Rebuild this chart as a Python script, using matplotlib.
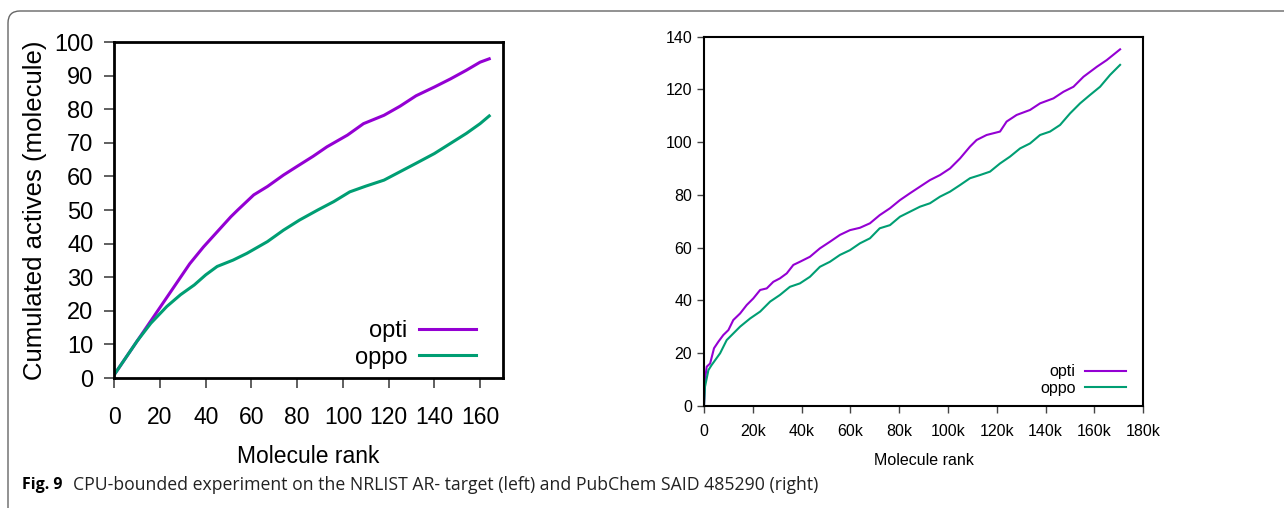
import matplotlib.pyplot as plt
from matplotlib.patches import FancyBboxPatch
from matplotlib.ticker import FuncFormatter

# left panel: NRLIST AR- target
left_opti_x = [0, 10, 20, 33, 39, 43, 47, 51, 54, 61, 67, 74, 80, 87, 93, 102, 109, 118, 125,
               132, 140, 147, 154, 160, 164]
left_opti_y = [1, 11, 21, 34, 39, 42, 45, 48, 50, 54.5, 57, 60.4, 63, 66, 68.8, 72.3, 75.7,
               78.2, 80.9, 84, 86.6, 89, 91.6, 94, 95]
left_oppo_x = [0, 10, 16, 23, 29, 35, 40, 45, 52, 58, 67, 74, 81, 89, 96, 103, 110, 118, 125,
               132, 140, 147, 154, 160, 164]
left_oppo_y = [1, 11, 16.3, 21.3, 24.8, 27.7, 30.7, 33.2, 35.1, 37.1, 40.6, 44, 47, 50, 52.5,
               55.4, 57.1, 58.9, 61.4, 63.9, 66.8, 69.8, 72.8, 75.7, 78]

# right panel: PubChem SAID 485290 (x in molecules)
right_opti_x = [0, 400, 1100, 2500, 4100, 5900, 7900, 10000, 12000, 14800, 17500, 20200, 23000,
                25700, 28400, 31100, 33900, 36600, 39300, 43400, 47500, 51600, 55700, 59800,
                63900, 68000, 72000, 76200, 80300, 84400, 88500, 92600, 96700, 100800, 104900,
                109000, 111700, 115800, 121300, 124000, 128100, 133600, 137700, 143200, 147300,
                151400, 155500, 161000, 165000, 170500]
right_opti_y = [0, 9.7, 14.8, 16, 21.8, 24.3, 26.8, 28.7, 32.5, 35, 38.2, 40.7, 43.9, 44.5, 47,
                48.3, 50.2, 53.4, 54.6, 56.5, 59.7, 62.2, 64.8, 66.6, 67.5, 69.2, 72.3, 74.9,
                78, 80.6, 83.1, 85.6, 87.5, 90, 93.8, 98.3, 100.8, 102.7, 104, 107.8, 110.3,
                112.2, 114.7, 116.6, 119.1, 121, 124.8, 128.6, 131.1, 135.2]
right_oppo_x = [0, 400, 1800, 3100, 6600, 9300, 12000, 14800, 18900, 23000, 27100, 31100, 35200,
                39300, 43400, 47500, 51600, 55700, 59800, 63900, 68000, 72000, 76200, 80300,
                84400, 88500, 92600, 96700, 100800, 104900, 109000, 113100, 117200, 121300,
                125400, 129500, 133600, 137700, 141800, 145900, 150000, 154100, 158200, 162300,
                166400, 170500]
right_oppo_y = [0, 7.2, 13.5, 15.4, 19.9, 24.9, 27.4, 30, 33.1, 35.7, 39.5, 42, 45.1, 46.4,
                48.9, 52.7, 54.6, 57.2, 59, 61.6, 63.5, 67.3, 68.5, 71.7, 73.6, 75.5, 76.8,
                79.3, 81.2, 83.7, 86.3, 87.5, 88.8, 91.9, 94.5, 97.6, 99.5, 102.7, 104, 106.5,
                110.9, 114.7, 117.9, 121, 125.5, 129.3]

purple = '#9400D3'
green = '#009E73'
plt.rcParams['font.family'] = ['Liberation Sans', 'DejaVu Sans']

fig = plt.figure(figsize=(12.84, 5.08), dpi=100)

# rounded frame around the figure
frame = FancyBboxPatch((0.08, -0.5), 13.2, 5.08 - 0.11 + 0.5, boxstyle='round,pad=0,rounding_size=0.12',
                       transform=fig.dpi_scale_trans, facecolor='none', edgecolor='#666666', lw=1.0)
fig.add_artist(frame)

# left plot
ax1 = fig.add_axes([0.0890, 0.2559, 0.3027, 0.6614])
ax1.plot(left_opti_x, left_opti_y, color=purple, lw=2.2, label='opti')
ax1.plot(left_oppo_x, left_oppo_y, color=green, lw=2.2, label='oppo')
ax1.set_xlim(0, 170)
ax1.set_ylim(0, 100)
ax1.set_xticks(range(0, 161, 20))
ax1.set_yticks(range(0, 101, 10))
ax1.tick_params(labelsize=17, direction='out', length=7, width=1.2, color='#444444')
ax1.tick_params(axis='x', pad=13, labelsize=16.5)
ax1.tick_params(axis='y', pad=8)
for s in ax1.spines.values():
    s.set_linewidth(2)
ax1.set_xlabel('Molecule rank', fontsize=16.5, labelpad=12)
ax1.set_ylabel('Cumulated actives (molecule)', fontsize=18.5, labelpad=5)
ax1.legend(loc='lower right', bbox_to_anchor=(0.985, -0.035), frameon=False, fontsize=17,
           markerfirst=False, handlelength=2.4, labelspacing=0.2, handletextpad=0.5)

# right plot
ax2 = fig.add_axes([0.5483, 0.2014, 0.3421, 0.7264])
ax2.plot(right_opti_x, right_opti_y, color=purple, lw=1.5, label='opti')
ax2.plot(right_oppo_x, right_oppo_y, color=green, lw=1.5, label='oppo')
ax2.set_xlim(0, 180000)
ax2.set_ylim(0, 140)
ax2.set_xticks(range(0, 180001, 20000))
ax2.set_yticks(range(0, 141, 20))
ax2.xaxis.set_major_formatter(FuncFormatter(lambda v, p: '0' if v == 0 else '%dk' % (v / 1000)))
ax2.tick_params(labelsize=11.5, direction='out', length=5, width=1, color='#444444')
ax2.tick_params(axis='x', pad=8)
for s in ax2.spines.values():
    s.set_linewidth(1.5)
ax2.set_xlabel('Molecule rank', fontsize=11.5, labelpad=10)
ax2.legend(loc='lower right', bbox_to_anchor=(0.993, -0.012), frameon=False, fontsize=11.5,
           markerfirst=False, handlelength=2.55, labelspacing=0.1, handletextpad=0.6)

# caption
fig.text(22 / 1284, 1 - 485 / 508, 'Fig. 9', fontsize=11.5, fontweight='bold', va='center',
         family=['Open Sans', 'DejaVu Sans'])
fig.text(73 / 1284, 1 - 485 / 508,
         'CPU-bounded experiment on the NRLIST AR- target (left) and PubChem SAID 485290 (right)',
         fontsize=12.7, va='center', family=['Open Sans', 'DejaVu Sans'], color='#222222')

fig.savefig('out.png', dpi=100)
